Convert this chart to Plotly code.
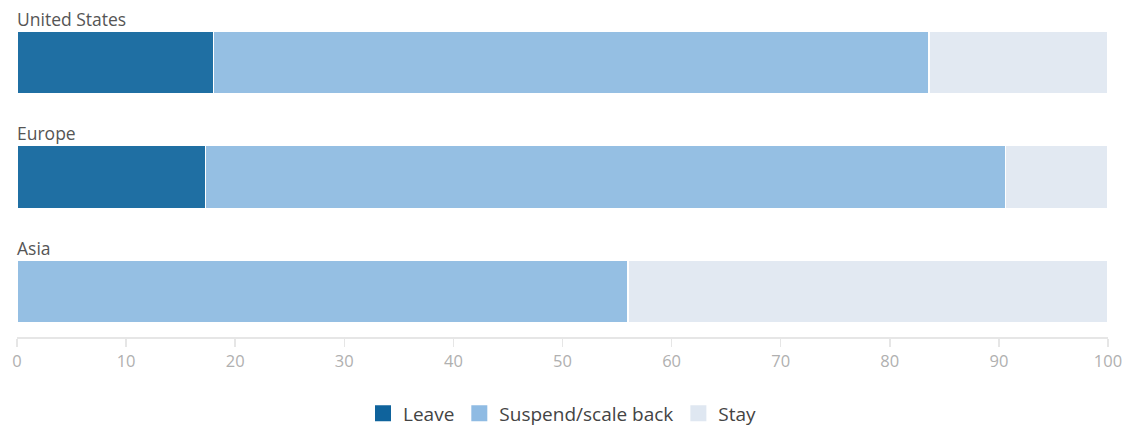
import plotly.graph_objects as go

regions = ["United States", "Europe", "Asia"]
leave = [18.0, 17.3, 0.0]
suspend = [65.6, 73.3, 56.0]
stay = [16.4, 9.4, 44.0]
series_names = ["Leave", "Suspend/scale back", "Stay"]
colors = ["#1f6fa3", "#95bfe3", "#e2e9f2"]
legend_colors = ["#0f639c", "#8fbbe3", "#dfe7f1"]
tick_vals = [0, 10, 20, 30, 40, 50, 60, 70, 80, 90, 100]

FONT = "Open Sans"
ypos = list(range(len(regions)))

fig = go.Figure()
for name, vals, c in zip(series_names, [leave, suspend, stay], colors):
    fig.add_trace(go.Bar(
        y=ypos, x=vals, name=name, orientation="h",
        marker=dict(color=c, line=dict(color="white", width=1.5)),
        width=0.55, showlegend=False,
    ))

# legend-only entries with larger square swatches
for name, c in zip(series_names, legend_colors):
    fig.add_trace(go.Scatter(
        x=[None], y=[None], mode="markers", name=name,
        marker=dict(symbol="square", size=17, color=c),
        showlegend=True,
    ))

for i, r in enumerate(regions):
    fig.add_annotation(
        x=0, xref="paper", y=i - 0.38, yref="y",
        text=r, showarrow=False, xanchor="left", yanchor="middle",
        font=dict(size=17.5, color="#555555", family=FONT),
        xshift=-2,
    )

fig.update_layout(
    barmode="stack",
    width=1124, height=444,
    margin=dict(l=17, r=16, t=5, b=107),
    plot_bgcolor="white", paper_bgcolor="white",
    font=dict(family=FONT, color="#444444"),
    showlegend=True,
    legend=dict(
        orientation="h", x=0.5, xanchor="center", y=-0.230, yanchor="middle",
        font=dict(size=19, color="#444444", family=FONT),
        itemwidth=30, traceorder="normal", itemsizing="trace",
    ),
    xaxis=dict(
        range=[0, 100], tickvals=tick_vals, showgrid=False, zeroline=False,
        showline=True, linecolor="#e6e6e6", linewidth=2,
        ticks="outside", ticklen=8, tickcolor="#e6e6e6", tickwidth=1.5,
        tickfont=dict(size=16.5, color="#b0b0b0", family=FONT),
        fixedrange=True, automargin=False,
    ),
    yaxis=dict(
        range=[2.4, -0.503], showticklabels=False, showgrid=False,
        zeroline=False, showline=False, fixedrange=True, automargin=False,
    ),
)

fig.write_html(
    "out.html",
    config={"displayModeBar": False, "staticPlot": True},
    post_script="document.body.style.margin='0';document.body.style.overflow='hidden';",
)
